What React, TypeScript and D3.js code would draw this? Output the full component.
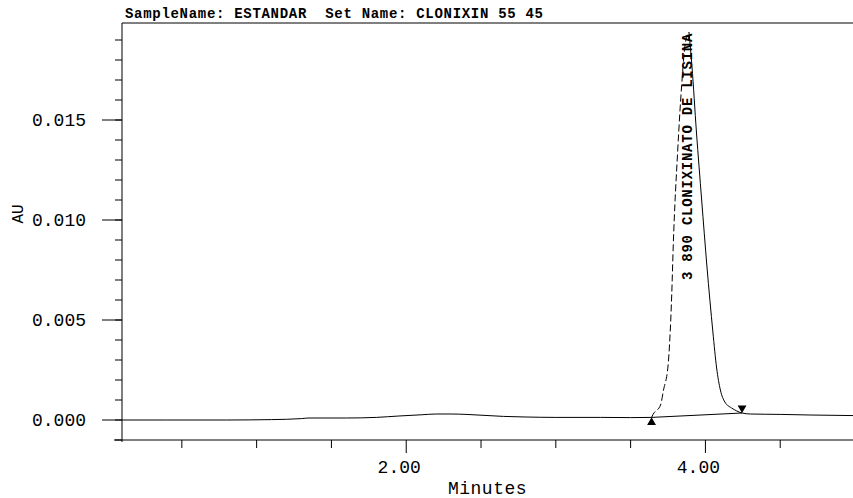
import React, { useEffect, useRef } from 'react'
import * as d3 from 'd3'

const titleText = 'SampleName: ESTANDAR  Set Name: CLONIXIN 55 45'
const peakLabel = '3 890 CLONIXINATO DE LISINA'
const xLabel = 'Minutes'
const yLabel = 'AU'

const xMinorTicks = [0.5, 1, 1.5, 2.5, 3, 3.5, 4.5]
const xMajorTicks = [2, 4]
const xTickLabels = ['2.00', '4.00']
const yMajorTicks = [0, 0.005, 0.01, 0.015]
const yTickLabels = ['0.000', '0.005', '0.010', '0.015']

// trace (minutes, AU)
const minutes = [
  0.1, 0.4, 0.8, 1.1, 1.3, 1.35, 1.6, 1.8, 1.95, 2.1, 2.2, 2.3, 2.4, 2.5,
  2.65, 2.8, 3.0, 3.3, 3.5, 3.64, 3.65, 3.7, 3.72, 3.75, 3.775, 3.785, 3.815,
  3.84, 3.865, 3.89, 3.91, 3.94, 3.975, 4.01, 4.05, 4.075, 4.1, 4.13, 4.175,
  4.21, 4.245, 4.3, 4.5, 4.7, 5.0,
]
const absorbance = [
  0, 0, 0, 0.00002, 0.00007, 0.0001, 0.0001, 0.00013, 0.0002, 0.00026, 0.0003,
  0.0003, 0.00028, 0.00024, 0.00018, 0.00015, 0.00013, 0.00013, 0.00012,
  0.00013, 0.00028, 0.00075, 0.0015, 0.0027, 0.0063, 0.0087, 0.0135, 0.0166,
  0.0188, 0.0194, 0.0177, 0.0144, 0.011, 0.0077, 0.0044, 0.0026, 0.0015,
  0.0009, 0.0006, 0.00045, 0.00035, 0.0003, 0.00028, 0.00025, 0.00022,
]

const peakStart = 3.64
const peakApex = 3.89
const peakEnd = 4.245

const font = '"Liberation Mono", "DejaVu Sans Mono", monospace'

export default function App() {
  const svgRef = useRef<SVGSVGElement>(null)

  useEffect(() => {
    const svg = d3.select(svgRef.current)
    svg.selectAll('*').remove()

    const left = 122
    const right = 853
    const top = 23
    const bottom = 440

    const x = d3.scaleLinear().domain([0.1, 5.0]).range([left, right + 2])
    const y = d3.scaleLinear().domain([-0.001, 0.01985]).range([bottom, top])

    const pts = minutes.map((m, i) => [m, absorbance[i]] as [number, number])
    const line = d3
      .line<[number, number]>()
      .x((d) => x(d[0]))
      .y((d) => y(d[1]))
      .curve(d3.curveMonotoneX)

    const g = svg.append('g').attr('stroke', '#000').attr('fill', 'none')

    // frame
    g.append('line').attr('x1', left).attr('x2', right).attr('y1', top).attr('y2', top)
    g.append('line').attr('x1', left).attr('x2', left).attr('y1', top).attr('y2', bottom + 2)
    g.append('line').attr('x1', left - 8).attr('x2', right).attr('y1', bottom).attr('y2', bottom)

    // y ticks
    const yMinor = d3.range(-1, 20).map((v) => v / 1000)
    g.selectAll('.yminor')
      .data(yMinor)
      .enter()
      .append('line')
      .attr('x1', left - 7)
      .attr('x2', left)
      .attr('y1', (d) => y(d))
      .attr('y2', (d) => y(d))
    g.selectAll('.ymajor')
      .data(yMajorTicks)
      .enter()
      .append('line')
      .attr('x1', left - 20)
      .attr('x2', left)
      .attr('y1', (d) => y(d))
      .attr('y2', (d) => y(d))

    // x ticks
    g.selectAll('.xminor')
      .data(xMinorTicks)
      .enter()
      .append('line')
      .attr('x1', (d) => x(d))
      .attr('x2', (d) => x(d))
      .attr('y1', bottom)
      .attr('y2', bottom + 8)
    g.selectAll('.xmajor')
      .data(xMajorTicks)
      .enter()
      .append('line')
      .attr('x1', (d) => x(d))
      .attr('x2', (d) => x(d))
      .attr('y1', bottom)
      .attr('y2', bottom + 13)

    // trace: solid everywhere except the dashed rising flank
    const rising = pts.filter((d) => d[0] >= peakStart && d[0] <= peakApex)
    const before = pts.filter((d) => d[0] <= peakStart)
    const after = pts.filter((d) => d[0] >= peakApex)
    g.append('path').attr('d', line(before)).attr('stroke-width', 1)
    g.append('path').attr('d', line(after)).attr('stroke-width', 1)
    g.append('path')
      .attr('d', line(rising))
      .attr('stroke-width', 1)
      .attr('stroke-dasharray', '7,3')

    // integration baseline
    const startVal = absorbance[minutes.indexOf(peakStart)]
    const endVal = absorbance[minutes.indexOf(peakEnd)]
    g.append('line')
      .attr('x1', x(peakStart))
      .attr('y1', y(startVal))
      .attr('x2', x(peakEnd))
      .attr('y2', y(endVal))

    const tri = d3.symbol().type(d3.symbolTriangle).size(34)
    svg
      .append('path')
      .attr('d', tri())
      .attr('fill', '#000')
      .attr('transform', `translate(${x(peakStart)},${y(startVal) + 5})`)
    svg
      .append('path')
      .attr('d', tri())
      .attr('fill', '#000')
      .attr('transform', `translate(${x(peakEnd)},${y(endVal) - 5}) rotate(180)`)

    // text
    const t = svg.append('g').attr('fill', '#000').attr('font-family', font)

    t.append('text')
      .attr('x', 125)
      .attr('y', 18)
      .attr('font-size', 14)
      .attr('font-weight', 'bold')
      .attr('letter-spacing', 0.7)
      .style('white-space', 'pre')
      .text(titleText)

    t.selectAll('.ylab')
      .data(yMajorTicks)
      .enter()
      .append('text')
      .attr('x', 86)
      .attr('y', (d) => y(d) + 6)
      .attr('text-anchor', 'end')
      .attr('font-size', 18)
      .text((d, i) => yTickLabels[i])

    t.selectAll('.xlab')
      .data(xMajorTicks)
      .enter()
      .append('text')
      .attr('x', (d) => x(d) - 7)
      .attr('y', 473)
      .attr('text-anchor', 'middle')
      .attr('font-size', 18)
      .text((d, i) => xTickLabels[i])

    t.append('text')
      .attr('x', (left + right) / 2)
      .attr('y', 494)
      .attr('text-anchor', 'middle')
      .attr('font-size', 18)
      .attr('letter-spacing', 0.5)
      .text(xLabel)

    t.append('text')
      .attr('transform', `translate(23,214) rotate(-90)`)
      .attr('text-anchor', 'middle')
      .attr('font-size', 16)
      .text(yLabel)

    t.append('text')
      .attr('transform', `translate(${x(peakApex) + 3},280) rotate(-90)`)
      .attr('font-size', 14)
      .attr('font-weight', 'bold')
      .attr('letter-spacing', 0.75)
      .text(peakLabel)
  }, [])

  return (
    <svg
      ref={svgRef}
      width={853}
      height={498}
      style={{ position: 'absolute', left: 0, top: 0, background: '#fff' }}
    />
  )
}
